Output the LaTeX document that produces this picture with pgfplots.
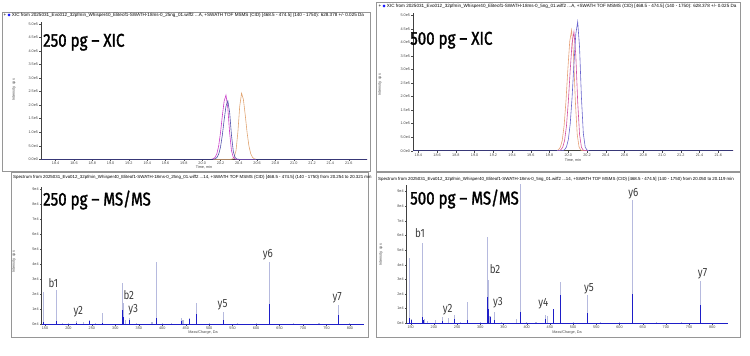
\documentclass[border=0pt]{standalone}
\usepackage{pgfplots}
\pgfplotsset{compat=1.18}
\usepackage{fontspec}
\setmainfont{Liberation Sans}
\newfontfamily\titlefont{Fira Sans}[FakeStretch=0.82]
\newfontfamily\titlefontB{Fira Sans}[FakeStretch=0.82, FakeBold=1.6]
\newfontfamily\symfont{DejaVu Sans}
\definecolor{xmag}{RGB}{200,60,200}
\definecolor{xblue}{RGB}{80,80,170}
\definecolor{xora}{RGB}{225,165,115}
\definecolor{xmagB}{RGB}{210,80,160}
\definecolor{xblueB}{RGB}{105,100,205}
\definecolor{xoraB}{RGB}{230,160,120}
\definecolor{splight}{RGB}{182,186,222}
\definecolor{spdark}{RGB}{30,30,200}
\definecolor{framec}{RGB}{150,150,150}
\definecolor{ticktxt}{RGB}{70,70,70}
\definecolor{lbl}{RGB}{60,60,60}
\tikzset{pk/.style={font=\titlefont\fontsize{12}{12}\selectfont, text=lbl, inner sep=0pt}}
\pgfplotsset{
  panel/.style={
    scale only axis, anchor=south west,
    axis x line=bottom, axis y line=left,
    axis line style={-, draw=black!75, line width=0.45bp},
    tick align=outside, major tick length=1.8bp,
    tick style={black!70, line width=0.35bp},
    ticklabel style={font=\fontsize{3.8}{4}\selectfont, text=ticktxt, inner sep=1bp},
    /pgf/number format/assume math mode=true,
  },
  xicpanel/.style={panel, ymin=0, ymax=5.066,
    xtick={18.4,18.6,18.8,19.0,19.2,19.4,19.6,19.8,20.0,20.2,20.4,20.6,20.8,21.0,21.2,21.4,21.6},
    xticklabel style={/pgf/number format/.cd, fixed, fixed zerofill, precision=1},
    ytick={0,0.5,1,1.5,2,2.5,3,3.5,4,4.5,5},
    yticklabels={0.0e0,5.0e4,1.0e5,1.5e5,2.0e5,2.5e5,3.0e5,3.5e5,4.0e5,4.5e5,5.0e5}},
  mspanel/.style={panel, ymin=0,
    xtick={150,200,250,300,350,400,450,500,550,600,650,700,750,800},
    ytick={0,1,2,3,4,5,6,7,8,9},
    yticklabels={0e4,1e4,2e4,3e4,4e4,5e4,6e4,7e4,8e4,9e4}},
}
\begin{document}
\begin{tikzpicture}
\useasboundingbox (0,0) rectangle (750bp,-356bp);
% panel frames
\draw[framec, line width=0.6bp] (2.5bp,-12bp) rectangle (370bp,-171bp);
\draw[framec, line width=0.6bp] (11.7bp,-172bp) rectangle (368bp,-337bp);
\draw[framec, line width=0.6bp] (376.7bp,-2bp) rectangle (740bp,-171bp);
\draw[framec, line width=0.6bp] (376.7bp,-172bp) rectangle (740bp,-337bp);
% headers
\node[anchor=base west, inner sep=0pt, font=\fontsize{4.6}{5}\selectfont] at (3.5bp,-16.3bp) {+ {\symfont\color{blue}\fontsize{4}{5}\selectfont◆} XIC from 2025031\_Evo012\_32pfmin\_Whisper40\_Eliteof1-SWATH-18ms-0\_25ng\_01.wiff2 ...A, +SWATH TOF MSMS (CID) [468.5 - 474.5] (140 - 1750): 628.378 +/- 0.025 Da};
\node[anchor=base west, inner sep=0pt, font=\fontsize{4.6}{5}\selectfont] at (378.5bp,-7bp) {+ {\symfont\color{blue}\fontsize{4}{5}\selectfont◆} XIC from 2025031\_Evo012\_32pfmin\_Whisper40\_Eliteof1-SWATH-18ms-0\_5ng\_01.wiff2 ...A, +SWATH TOF MSMS (CID) [468.5 - 474.5] (140 - 1750): 628.378 +/- 0.025 Da};
\node[anchor=base west, inner sep=0pt, font=\fontsize{4.4}{5}\selectfont] at (13bp,-178.5bp) {Spectrum from 2025031\_Evo012\_32pfmin\_Whisper40\_Eliteof1-SWATH-18ms-0\_25ng\_01.wiff2 ...14, +SWATH TOF MSMS (CID) [468.5 - 474.5] (140 - 1750) from 20.254 to 20.321 min};
\node[anchor=base west, inner sep=0pt, font=\fontsize{4.4}{5}\selectfont] at (378bp,-180.5bp) {Spectrum from 2025031\_Evo012\_32pfmin\_Whisper40\_Eliteof1-SWATH-18ms-0\_5ng\_01.wiff2 ...14, +SWATH TOF MSMS (CID) [468.5 - 474.5] (140 - 1750) from 20.050 to 20.119 min};
% axis labels
\node[rotate=90, font=\fontsize{3.8}{4}\selectfont, text=ticktxt] at (14bp,-90bp) {Intensity, cps};
\node[rotate=90, font=\fontsize{3.8}{4}\selectfont, text=ticktxt] at (380bp,-85bp) {Intensity, cps};
\node[rotate=90, font=\fontsize{3.8}{4}\selectfont, text=ticktxt] at (14bp,-262bp) {Intensity, cps};
\node[rotate=90, font=\fontsize{3.8}{4}\selectfont, text=ticktxt] at (381bp,-255bp) {Intensity, cps};
\node[font=\fontsize{3.8}{4}\selectfont, text=ticktxt] at (204bp,-167bp) {Time, min};
\node[font=\fontsize{3.8}{4}\selectfont, text=ticktxt] at (573bp,-160bp) {Time, min};
\node[font=\fontsize{3.8}{4}\selectfont, text=ticktxt] at (203bp,-333bp) {Mass/Charge, Da};
\node[font=\fontsize{3.8}{4}\selectfont, text=ticktxt] at (567bp,-333bp) {Mass/Charge, Da};

% ---------- 250 pg XIC ----------
\begin{axis}[xicpanel, at={(41bp,-159.3bp)}, width=326bp, height=137.3bp, xmin=18.24, xmax=21.8]
\addplot[xora, line width=0.6bp] coordinates {(18.24,0) (20.31,0) (20.33,0.010) (20.35,0.070) (20.37,0.329) (20.39,1.003) (20.41,1.952) (20.43,2.44) (20.45,2.211) (20.47,1.645) (20.49,1.003) (20.51,0.503) (20.53,0.207) (20.55,0.070) (20.57,0.019) (20.59,0) (21.8,0)};
\addplot[xmag, line width=0.6bp] coordinates {(18.24,0) (20.10,0) (20.12,0.019) (20.14,0.068) (20.16,0.201) (20.18,0.488) (20.20,0.974) (20.22,1.597) (20.24,2.147) (20.26,2.37) (20.28,1.896) (20.30,0.974) (20.32,0.320) (20.34,0.068) (20.36,0.009) (20.38,0) (21.8,0)};
\addplot[xblue, line width=0.6bp] coordinates {(18.24,0) (20.12,0) (20.14,0.017) (20.16,0.062) (20.18,0.184) (20.20,0.445) (20.22,0.888) (20.24,1.456) (20.26,1.957) (20.28,2.16) (20.30,1.728) (20.32,0.888) (20.34,0.292) (20.36,0.062) (20.38,0.008) (20.40,0) (21.8,0)};
\addplot[xblue!70!black, line width=0.8bp] coordinates {(18.24,0) (20.12,0)};
\addplot[xblue!70!black, line width=0.8bp] coordinates {(20.59,0) (21.8,0)};
\end{axis}

% ---------- 500 pg XIC ----------
\begin{axis}[xicpanel, at={(413bp,-150.7bp)}, width=320bp, height=137.3bp, xmin=18.343, xmax=21.757]
\addplot[xoraB, line width=0.6bp] coordinates {(18.343,0) (19.875,0) (19.895,0.035) (19.915,0.127) (19.935,0.378) (19.955,0.917) (19.975,1.829) (19.995,2.999) (20.015,4.032) (20.035,4.45) (20.055,3.56) (20.075,1.829) (20.095,0.601) (20.115,0.127) (20.135,0.017) (20.155,0) (21.757,0)};
\addplot[xmagB, line width=0.6bp] coordinates {(18.343,0) (19.90,0) (19.92,0.035) (19.94,0.126) (19.96,0.373) (19.98,0.904) (20.00,1.804) (20.02,2.959) (20.04,3.977) (20.06,4.39) (20.08,3.512) (20.10,1.804) (20.12,0.593) (20.14,0.126) (20.16,0.017) (20.18,0) (21.757,0)};
\addplot[xblueB, line width=0.6bp] coordinates {(18.343,0) (19.94,0) (19.96,0.038) (19.98,0.136) (20.00,0.405) (20.02,0.981) (20.04,1.956) (20.06,3.208) (20.08,4.313) (20.10,4.76) (20.12,3.808) (20.14,1.956) (20.16,0.643) (20.18,0.136) (20.20,0.019) (20.22,0) (21.757,0)};
\addplot[xblue!70!black, line width=0.8bp] coordinates {(18.343,0) (19.875,0)};
\addplot[xblue!70!black, line width=0.8bp] coordinates {(20.22,0) (21.757,0)};
\end{axis}

% ---------- 250 pg MS/MS ----------
\begin{axis}[mspanel, at={(41.7bp,-324bp)}, width=322.3bp, height=137.25bp, xmin=143, xmax=830, ymax=9.15]
\addplot[ycomb, no marks, splight, line width=1.1bp] coordinates {(147.1,2.16) (175.1,2.27) (187,0.08) (200,0.06) (218.1,0.22) (232,0.12) (245.1,0.25) (258,0.06) (272.2,0.75) (315.2,2.71) (318.2,1.38) (321,0.3) (330.2,0.38) (345,0.05) (378,0.12) (387.2,4.16) (400,0.06) (420,0.05) (440.2,0.38) (444.2,0.27) (458.2,0.38) (473.8,1.42) (500,0.05) (531.3,0.82) (560,0.05) (600,0.05) (628.4,4.11) (680,0.05) (734,0.1) (775.4,1.27) (800,0.05)};
\addplot[ycomb, no marks, spdark, line width=0.9bp] coordinates {(147.1,0.15) (175.1,0.2) (218.1,0.1) (245.1,0.2) (272.2,0.1) (315.2,0.93) (318.2,0.5) (330.2,0.3) (387.2,0.4) (440.2,0.2) (458.2,0.35) (473.8,0.65) (531.3,0.25) (628.4,1.35) (775.4,0.6)};
\addplot[spdark, line width=0.8bp] coordinates {(143,0) (830,0)};
\node[pk] at (axis cs:168,2.7) {b1};
\node[pk] at (axis cs:221,0.82) {y2};
\node[pk] at (axis cs:328.6,1.9) {b2};
\node[pk] at (axis cs:338,0.93) {y3};
\node[pk] at (axis cs:528.6,1.3) {y5};
\node[pk] at (axis cs:625,4.6) {y6};
\node[pk] at (axis cs:773,1.78) {y7};
\end{axis}

% ---------- 500 pg MS/MS ----------
\begin{axis}[mspanel, at={(406.7bp,-323.3bp)}, width=321.6bp, height=138.4bp, xmin=141.4, xmax=834.5, ymax=9.46]
\addplot[ycomb, no marks, splight, line width=1.1bp] coordinates {(147.1,4.49) (152,0.3) (175.1,5.47) (180,0.3) (187,0.15) (203,0.23) (218.1,0.46) (232,0.34) (245.1,0.6) (258,0.1) (272.2,1.43) (300,0.1) (315.2,5.88) (318.2,2.96) (321,0.5) (330.2,0.75) (345,0.1) (360,0.05) (378,0.3) (387.2,10) (400,0.1) (420,0.1) (440.2,0.55) (444.2,0.5) (458.2,0.96) (473.8,2.85) (500,0.1) (531.3,1.94) (560,0.1) (600,0.1) (628.4,8.4) (680,0.1) (734,0.1) (775.4,2.92) (800,0.05)};
\addplot[ycomb, no marks, spdark, line width=0.9bp] coordinates {(147.1,0.34) (152,0.2) (175.1,0.46) (178,0.25) (218.1,0.15) (245.1,0.3) (272.2,0.2) (315.2,1.82) (318.2,1.0) (321,0.45) (330.2,0.2) (387.2,0.8) (440.2,0.3) (458.2,0.96) (473.8,1.94) (531.3,0.68) (628.4,2.0) (775.4,1.25)};
\addplot[spdark, line width=0.8bp] coordinates {(141.4,0) (834.5,0)};
\node[pk] at (axis cs:170,6.15) {b1};
\node[pk] at (axis cs:229.7,0.96) {y2};
\node[pk] at (axis cs:331.7,3.69) {b2};
\node[pk] at (axis cs:338,1.41) {y3};
\node[pk] at (axis cs:435.8,1.32) {y4};
\node[pk] at (axis cs:534,2.35) {y5};
\node[pk] at (axis cs:629.8,8.84) {y6};
\node[pk] at (axis cs:779,3.37) {y7};
\end{axis}

% titles
\node[anchor=base west, inner sep=0pt, font=\titlefontB\fontsize{18.5}{19}\selectfont] at (43bp,-46.7bp) {250 pg – XIC};
\node[anchor=base west, inner sep=0pt, font=\titlefontB\fontsize{18.5}{19}\selectfont] at (410bp,-44.7bp) {500 pg – XIC};
\node[anchor=base west, inner sep=0pt, font=\titlefontB\fontsize{18.5}{19}\selectfont] at (43bp,-205.5bp) {250 pg – MS/MS};
\node[anchor=base west, inner sep=0pt, font=\titlefontB\fontsize{18.5}{19}\selectfont] at (410bp,-204.5bp) {500 pg – MS/MS};
\end{tikzpicture}
\end{document}
